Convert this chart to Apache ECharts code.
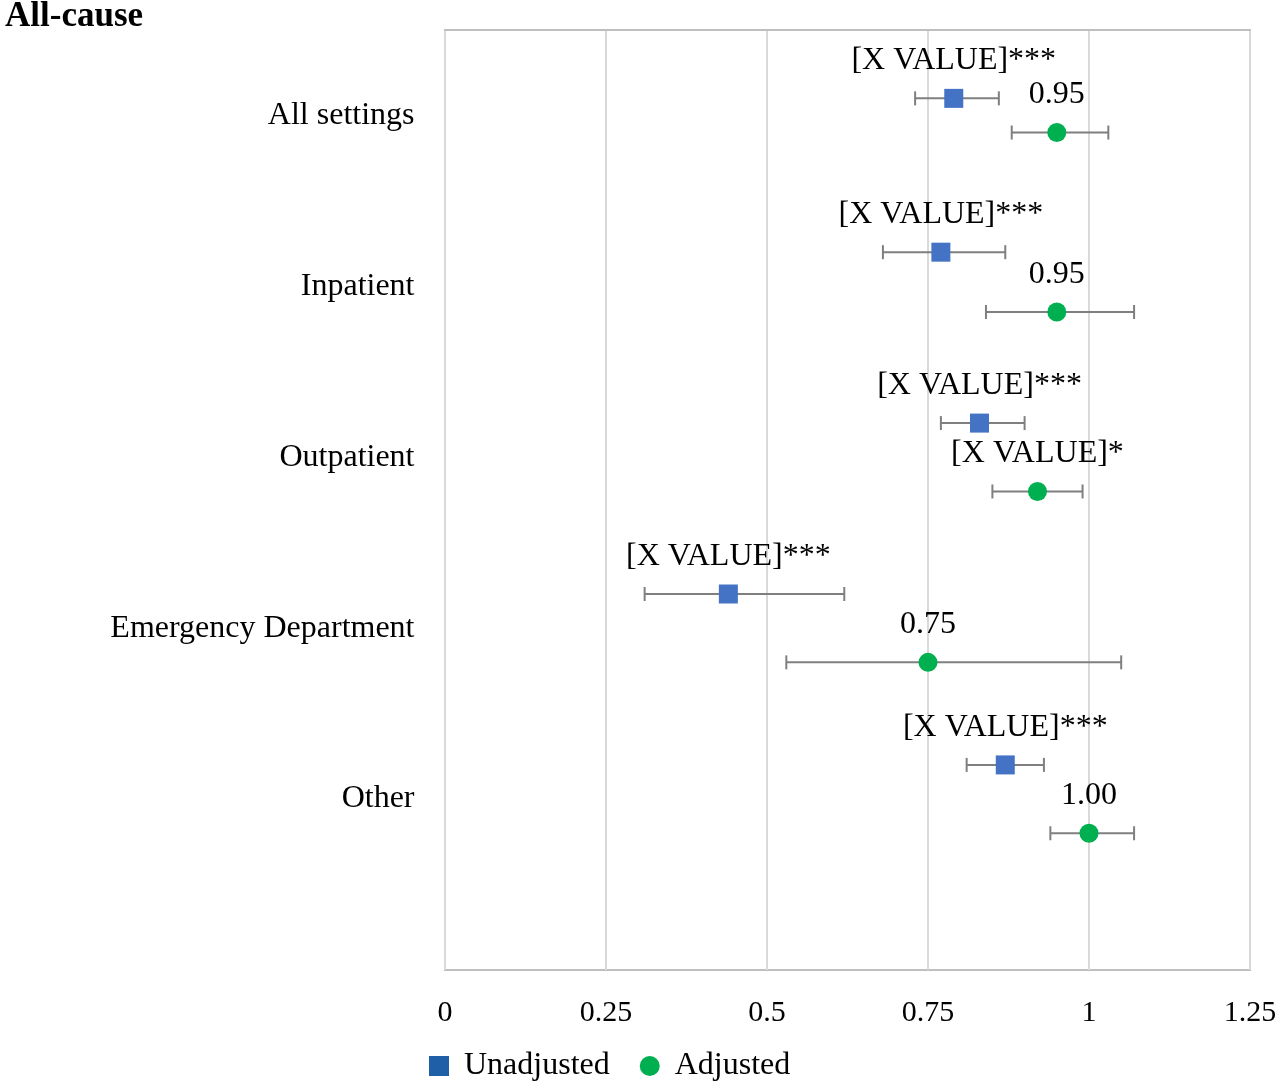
<!DOCTYPE html>
<html>
<head>
<meta charset="utf-8">
<script src="https://cdn.jsdelivr.net/npm/echarts@6/dist/echarts.min.js"></script>
<style>html,body{margin:0;padding:0;background:#fff}#chart{width:1280px;height:1087px}</style>
</head>
<body>
<div id="chart"></div>
<script>
const categories = ['All settings', 'Inpatient', 'Outpatient', 'Emergency Department', 'Other'];
const catPos = [0.5, 1.5, 2.5, 3.5, 4.5];
// row positions for each marker (y axis runs top to bottom)
const unadjPos = [0.40, 1.30, 2.30, 3.30, 4.30];
const adjPos = [0.60, 1.65, 2.70, 3.70, 4.70];
const unadjValue = [0.79, 0.77, 0.83, 0.44, 0.87];
const unadjLow = [0.73, 0.68, 0.77, 0.31, 0.81];
const unadjHigh = [0.86, 0.87, 0.90, 0.62, 0.93];
const unadjLabel = ['[X VALUE]***', '[X VALUE]***', '[X VALUE]***', '[X VALUE]***', '[X VALUE]***'];
const adjValue = [0.95, 0.95, 0.92, 0.75, 1.00];
const adjLow = [0.88, 0.84, 0.85, 0.53, 0.94];
const adjHigh = [1.03, 1.07, 0.99, 1.05, 1.07];
const adjLabel = ['0.95', '0.95', '[X VALUE]*', '0.75', '1.00'];
const xTicks = ['0', '0.25', '0.5', '0.75', '1', '1.25'];

const font = 'Liberation Serif';
const chart = echarts.init(document.getElementById('chart'));

function errorBars(name, low, high, pos) {
  return {
    type: 'custom', name: name + ' CI', silent: true, z: 2,
    data: low.map((l, i) => [l, high[i], pos[i]]),
    renderItem: (params, api) => {
      const a = api.coord([api.value(0), api.value(2)]);
      const b = api.coord([api.value(1), api.value(2)]);
      const st = {stroke: '#7f7f7f', lineWidth: 2};
      return {type: 'group', children: [
        {type: 'line', shape: {x1: a[0], y1: a[1], x2: b[0], y2: b[1]}, style: st},
        {type: 'line', shape: {x1: a[0], y1: a[1] - 7, x2: a[0], y2: a[1] + 7}, style: st},
        {type: 'line', shape: {x1: b[0], y1: b[1] - 7, x2: b[0], y2: b[1] + 7}, style: st}
      ]};
    }
  };
}

const lbl = {fontFamily: font, fontSize: 32, color: '#000', opacity: 1};

chart.setOption({
  animation: false,
  textStyle: {fontFamily: font},
  title: {text: 'All-cause', left: 0, top: -6, textStyle: {fontFamily: font, fontSize: 35, fontWeight: 'bold', color: '#000'}},
  legend: {
    bottom: 0, left: 424, itemGap: 30, itemWidth: 20, itemHeight: 20,
    textStyle: {fontFamily: font, fontSize: 32, color: '#000', padding: [0, 0, 0, 10]},
    data: [{name: 'Unadjusted', icon: 'rect', itemStyle: {color: '#1f5fa8'}}, {name: 'Adjusted', icon: 'circle'}]
  },
  grid: {left: 445, right: 30, top: 30, bottom: 117, show: true, borderColor: '#bfbfbf', borderWidth: 2},
  xAxis: {
    type: 'value', min: 0, max: 1.25, interval: 0.25,
    axisLine: {show: true, lineStyle: {color: '#bfbfbf', width: 2}},
    axisTick: {show: false},
    splitLine: {lineStyle: {color: '#d9d9d9', width: 2}},
    axisLabel: {fontFamily: font, fontSize: 30, color: '#000', margin: 28,
      formatter: (v) => xTicks[Math.round(v / 0.25)]}
  },
  yAxis: {type: 'value', min: 0, max: 5.5, inverse: true, show: false},
  series: [
    {
      type: 'scatter', name: 'cats', symbolSize: 1, silent: true,
      itemStyle: {color: 'rgba(0,0,0,0)', opacity: 1},
      data: catPos.map((p, i) => [0, p, categories[i]]),
      label: Object.assign({show: true, position: 'left', distance: 30, formatter: (p) => p.data[2]}, lbl)
    },
    errorBars('Unadjusted', unadjLow, unadjHigh, unadjPos),
    errorBars('Adjusted', adjLow, adjHigh, adjPos),
    {
      type: 'scatter', name: 'Unadjusted', symbol: 'rect', symbolSize: 19, z: 3,
      itemStyle: {color: '#4472c4', opacity: 1},
      data: unadjValue.map((v, i) => [v, unadjPos[i], unadjLabel[i]]),
      label: Object.assign({show: true, position: 'top', distance: 12, formatter: (p) => p.data[2]}, lbl)
    },
    {
      type: 'scatter', name: 'Adjusted', symbol: 'circle', symbolSize: 19, z: 3,
      itemStyle: {color: '#00b050', opacity: 1},
      data: adjValue.map((v, i) => [v, adjPos[i], adjLabel[i]]),
      label: Object.assign({show: true, position: 'top', distance: 12, formatter: (p) => p.data[2]}, lbl)
    }
  ]
});
</script>
</body>
</html>
